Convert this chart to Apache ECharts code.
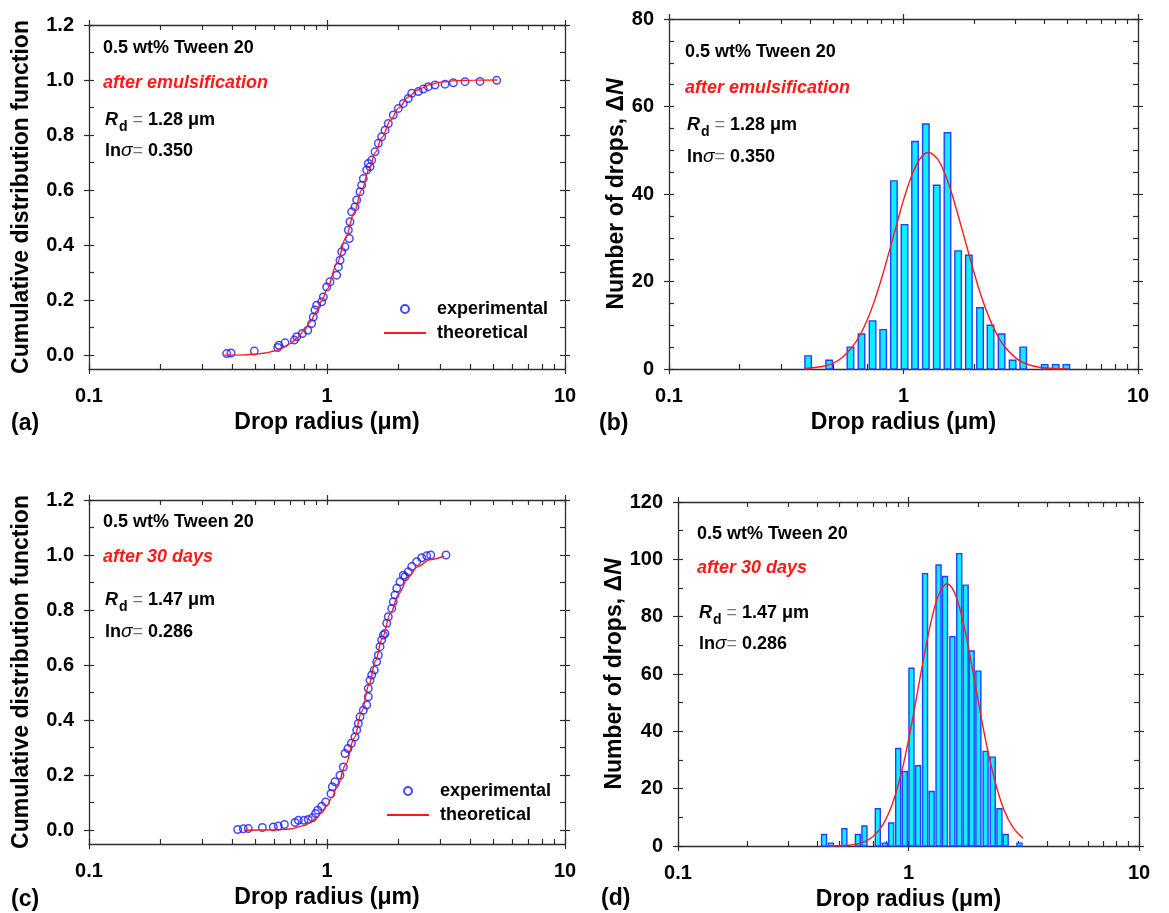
<!DOCTYPE html>
<html>
<head>
<meta charset="utf-8">
<script src="https://cdn.jsdelivr.net/npm/echarts@6/dist/echarts.min.js"></script>
<style>
html,body{margin:0;padding:0;background:#ffffff;}
#chart{width:1169px;height:913px;}
</style>
</head>
<body>
<div id="chart"></div>
<script>
// ---------------- DATA ----------------
const xTickValues = [0.1, 1, 10];
const xAllTickValues = [0.1,0.2,0.3,0.4,0.5,0.6,0.7,0.8,0.9,1,2,3,4,5,6,7,8,9,10];
const cdfTickValues = [0, 0.2, 0.4, 0.6, 0.8, 1.0, 1.2];
const cdfMinorValues = [0,0.1,0.2,0.3,0.4,0.5,0.6,0.7,0.8,0.9,1.0,1.1,1.2];
const countTicksB = [0, 20, 40, 60, 80];
const countMinorB = [0,5,10,15,20,25,30,35,40,45,50,55,60,65,70,75,80];
const countTicksD = [0, 20, 40, 60, 80, 100, 120];
const countMinorD = [0,10,20,30,40,50,60,70,80,90,100,110,120];

// (a) experimental cumulative distribution, after emulsification [radius um, F]
const expA = [
  [0.379,0.006],[0.395,0.008],[0.495,0.015],[0.621,0.028],[0.628,0.036],[0.666,0.045],
  [0.729,0.055],[0.746,0.067],[0.787,0.079],[0.830,0.091],[0.862,0.115],[0.876,0.139],
  [0.890,0.164],[0.905,0.182],[0.950,0.194],[0.965,0.212],[0.997,0.248],[1.029,0.267],
  [1.098,0.291],[1.116,0.321],[1.134,0.345],[1.153,0.376],[1.190,0.394],[1.241,0.424],
  [1.229,0.455],[1.249,0.485],[1.270,0.521],[1.311,0.539],[1.333,0.564],[1.376,0.594],
  [1.399,0.618],[1.421,0.642],[1.468,0.673],[1.491,0.697],[1.516,0.685],[1.541,0.709],
  [1.591,0.739],[1.643,0.770],[1.697,0.794],[1.753,0.818],[1.810,0.842],[1.899,0.873],
  [1.994,0.897],[2.092,0.915],[2.196,0.933],[2.270,0.952],[2.419,0.958],[2.539,0.967],
  [2.665,0.976],[2.843,0.982],[3.132,0.985],[3.394,0.990],[3.801,0.994],[4.395,0.995],
  [5.164,0.999]
];
// (a) theoretical curve
const theoA = [
  [0.37,0.0003],[0.45,0.0014],[0.5,0.0036],[0.55,0.0079],[0.6,0.0152],[0.65,0.0264],
  [0.7,0.0423],[0.75,0.0634],[0.8,0.0896],[0.85,0.121],[0.9,0.157],[0.95,0.197],
  [1.0,0.240],[1.1,0.332],[1.2,0.427],[1.3,0.518],[1.4,0.601],[1.5,0.675],[1.6,0.738],
  [1.7,0.791],[1.85,0.854],[2.0,0.899],[2.2,0.939],[2.4,0.964],[2.7,0.9835],[3.0,0.9925],
  [3.5,0.998],[4.2,0.9997],[5.2,1.0]
];
// (b) histogram, after emulsification
const binCentersB = [0.392,0.482,0.594,0.662,0.738,0.819,0.910,1.01,1.12,1.245,1.386,1.54,1.71,1.90,2.12,2.35,2.62,2.92,3.24,4.0,4.46,4.95];
const countsB     = [3,2,5,8,11,9,43,33,52,56,42,54,27,26,14,10,8,2,5,1,1,1];
const theoB = [
  [0.38,0.12],[0.45,0.57],[0.5,1.3],[0.55,2.7],[0.6,4.8],[0.65,7.6],[0.7,11.2],[0.75,15.4],
  [0.8,20.1],[0.85,25.0],[0.9,29.8],[0.95,34.4],[1.0,38.6],[1.1,45.1],[1.2,48.7],[1.28,49.5],
  [1.4,47.9],[1.5,44.7],[1.6,40.4],[1.7,35.6],[1.85,28.5],[2.0,22.0],[2.15,16.5],[2.3,12.2],
  [2.5,7.9],[2.7,5.1],[3.0,2.6],[3.2,1.6],[3.6,0.63],[4.2,0.16],[5.0,0.03]
];
// (c) experimental cumulative distribution, after 30 days
const expC = [
  [0.4215,0.0025],[0.445,0.005],[0.467,0.006],[0.535,0.010],[0.595,0.012],[0.624,0.015],
  [0.662,0.021],[0.734,0.028],[0.758,0.036],[0.800,0.036],[0.834,0.039],[0.868,0.045],
  [0.896,0.061],[0.914,0.073],[0.950,0.087],[0.987,0.103],[1.039,0.133],[1.053,0.158],
  [1.080,0.176],[1.134,0.200],[1.171,0.230],[1.190,0.279],[1.225,0.297],[1.266,0.316],
  [1.311,0.339],[1.333,0.364],[1.354,0.388],[1.376,0.412],[1.421,0.436],[1.468,0.455],
  [1.491,0.485],[1.491,0.515],[1.516,0.545],[1.541,0.564],[1.580,0.582],[1.617,0.612],
  [1.643,0.636],[1.670,0.667],[1.697,0.691],[1.725,0.709],[1.753,0.715],[1.782,0.752],
  [1.810,0.776],[1.870,0.806],[1.899,0.830],[1.931,0.855],[1.963,0.879],[2.027,0.903],
  [2.092,0.927],[2.127,0.921],[2.196,0.939],[2.270,0.958],[2.382,0.976],[2.500,0.990],
  [2.624,0.997],[2.728,1.0],[3.162,1.0]
];
const theoC = [
  [0.45,0.00002],[0.6,0.0009],[0.7,0.0047],[0.8,0.0167],[0.85,0.0277],[0.9,0.0432],
  [0.95,0.0635],[1.0,0.089],[1.05,0.1196],[1.1,0.155],[1.2,0.239],[1.3,0.334],[1.4,0.432],
  [1.5,0.528],[1.6,0.616],[1.7,0.694],[1.85,0.789],[2.0,0.859],[2.2,0.921],[2.4,0.957],
  [2.7,0.983],[3.1,0.9955]
];
// (d) histogram, after 30 days
const binCentersD = [0.430,0.461,0.527,0.603,0.644,0.736,0.789,0.841,0.902,0.964,1.03,1.10,1.18,1.26,1.35,1.44,1.55,1.66,1.77,1.88,2.01,2.16,2.32,2.48,2.64,3.03];
const countsD     = [4,1,6,4,7,13,1,8,34,26,62,28,95,19,98,94,73,102,91,68,61,33,31,13,4,1];
const theoD = [
  [0.45,0.02],[0.55,0.25],[0.65,1.6],[0.75,5.8],[0.85,14.6],[0.95,28.5],[1.05,45.8],
  [1.15,63.3],[1.25,77.9],[1.35,87.5],[1.47,91.5],[1.6,87.5],[1.75,76.0],[1.9,61.2],
  [2.05,46.5],[2.2,33.9],[2.4,21.1],[2.6,12.5],[2.85,6.3],[3.14,2.7]
];

// ---------------- STYLE / BUILD ----------------
const FONT = '"Liberation Sans", Arial, Helvetica, sans-serif';
const AXC = '#2e2e2e';
const grids = [], xAxes = [], yAxes = [], series = [], graphics = [], legends = [];

function zip(a, b) { return a.map((v, i) => [v, b[i]]); }

function addPanel(p) {
  const g = grids.length;
  grids.push({left: p.l, top: p.t, width: p.w, height: p.h});
  grids.push({left: p.l, top: p.t, width: p.w, height: p.h});
  const xi = xAxes.length, yi = yAxes.length;
  const line = {show: true, onZero: false, lineStyle: {color: AXC, width: 1.3}};
  const noLine = {show: false, onZero: false};
  const tick = {color: AXC, width: 1.2};
  const xb = {type: 'log', logBase: 10, min: 0.1, max: 10, splitLine: {show: false},
              minorTick: {show: false}, minorSplitLine: {show: false}};
  const yb = {type: 'value', min: p.ymin, max: p.ymax, splitLine: {show: false},
              minorTick: {show: false}, minorSplitLine: {show: false}};
  const lab = {color: '#000', fontFamily: FONT, fontWeight: 'bold', fontSize: 20};
  const nameStyle = {color: '#000', fontFamily: FONT, fontWeight: 'bold', fontSize: 23};
  // main grid axes: labels + outward major ticks
  xAxes.push(Object.assign({}, xb, {gridIndex: g, position: 'bottom', axisLine: line,
    axisTick: {show: true, inside: false, length: 5, customValues: xTickValues, lineStyle: tick},
    axisLabel: Object.assign({show: true, customValues: xTickValues, margin: 17,
      formatter: v => String(+(+v).toPrecision(3))}, lab),
    name: 'Drop radius (\u03bcm)', nameLocation: 'middle', nameGap: 42, nameTextStyle: nameStyle}));
  xAxes.push(Object.assign({}, xb, {gridIndex: g, position: 'top', axisLine: line,
    axisTick: {show: true, inside: false, length: 5, customValues: xTickValues, lineStyle: tick},
    axisLabel: {show: false}}));
  yAxes.push(Object.assign({}, yb, {gridIndex: g, position: 'left', axisLine: line,
    axisTick: {show: true, inside: false, length: 5, customValues: p.yTicks, lineStyle: tick},
    axisLabel: Object.assign({show: true, customValues: p.yTicks, margin: 15,
      formatter: p.yFmt}, lab),
    name: p.yName, nameLocation: 'middle', nameRotate: 90, nameGap: p.yNameGap,
    nameTextStyle: Object.assign({}, nameStyle, {rich: {i: {fontFamily: FONT, fontWeight: 'bold',
      fontStyle: 'italic', fontSize: 23, color: '#000'}}})}));
  yAxes.push(Object.assign({}, yb, {gridIndex: g, position: 'right', axisLine: line,
    axisTick: {show: true, inside: false, length: 5, customValues: p.yTicks, lineStyle: tick},
    axisLabel: {show: false}}));
  // overlay grid axes: inward major + minor ticks
  xAxes.push(Object.assign({}, xb, {gridIndex: g + 1, position: 'bottom', axisLine: noLine,
    axisTick: {show: true, inside: true, length: 5, customValues: xAllTickValues, lineStyle: tick},
    axisLabel: {show: false}}));
  xAxes.push(Object.assign({}, xb, {gridIndex: g + 1, position: 'top', axisLine: noLine,
    axisTick: {show: true, inside: true, length: 5, customValues: xAllTickValues, lineStyle: tick},
    axisLabel: {show: false}}));
  yAxes.push(Object.assign({}, yb, {gridIndex: g + 1, position: 'left', axisLine: noLine,
    axisTick: {show: true, inside: true, length: 5, customValues: p.yMinor, lineStyle: tick},
    axisLabel: {show: false}}));
  yAxes.push(Object.assign({}, yb, {gridIndex: g + 1, position: 'right', axisLine: noLine,
    axisTick: {show: true, inside: true, length: 5, customValues: p.yMinor, lineStyle: tick},
    axisLabel: {show: false}}));
  return {xi: xi, yi: yi};
}

const cdfFmt = v => (+v).toFixed(1);
const intFmt = v => String(Math.round(+v));

const PA = addPanel({l: 89, t: 25, w: 476, h: 344, ymin: -0.05, ymax: 1.2, yTicks: cdfTickValues,
  yMinor: cdfMinorValues, yFmt: cdfFmt, yName: 'Cumulative distribution function', yNameGap: 56});
const PB = addPanel({l: 669, t: 19, w: 469, h: 350, ymin: 0, ymax: 80, yTicks: countTicksB,
  yMinor: countMinorB, yFmt: intFmt, yName: 'Number of drops, \u0394{i|N}', yNameGap: 38});
const PC = addPanel({l: 89, t: 500, w: 476, h: 344, ymin: -0.05, ymax: 1.2, yTicks: cdfTickValues,
  yMinor: cdfMinorValues, yFmt: cdfFmt, yName: 'Cumulative distribution function', yNameGap: 56});
const PD = addPanel({l: 678, t: 502, w: 461, h: 344, ymin: 0, ymax: 120, yTicks: countTicksD,
  yMinor: countMinorD, yFmt: intFmt, yName: 'Number of drops, \u0394{i|N}', yNameGap: 46});

function addCdf(P, exp, theo) {
  series.push({type: 'scatter', name: 'experimental', xAxisIndex: P.xi, yAxisIndex: P.yi, data: exp,
    symbol: 'circle', symbolSize: 7.5, z: 3,
    itemStyle: {color: 'rgba(0,0,0,0)', borderColor: '#1a1aff', borderWidth: 1.5}});
  series.push({type: 'line', name: 'theoretical', xAxisIndex: P.xi, yAxisIndex: P.yi, data: theo,
    symbol: 'none', smooth: 0.35, smoothMonotone: 'x', z: 4,
    lineStyle: {color: '#ff1a1a', width: 1.4}, itemStyle: {color: '#ff1a1a'}});
}
function addHist(P, centers, counts, theo, barW) {
  series.push({type: 'custom', name: 'drops', xAxisIndex: P.xi, yAxisIndex: P.yi,
    data: zip(centers, counts), encode: {x: 0, y: 1}, z: 2,
    renderItem: function (params, api) {
      const top = api.coord([api.value(0), api.value(1)]);
      const base = api.coord([api.value(0), 0]);
      return {type: 'rect',
        shape: {x: top[0] - barW / 2, y: top[1], width: barW, height: base[1] - top[1]},
        style: {fill: '#0af0ff', stroke: '#2a3cff', lineWidth: 1.4}};
    }});
  series.push({type: 'line', name: 'fit', xAxisIndex: P.xi, yAxisIndex: P.yi, data: theo,
    symbol: 'none', smooth: 0.35, z: 4, lineStyle: {color: '#ff1a1a', width: 1.4}});
}
addCdf(PA, expA, theoA);
addHist(PB, binCentersB, countsB, theoB, 6.5);
addCdf(PC, expC, theoC);
addHist(PD, binCentersD, countsD, theoD, 5);

function legendAt(left, top) {
  return {left: left, top: top, padding: 0, orient: 'vertical', itemWidth: 42, itemHeight: 8, itemGap: 6,
    data: ['experimental', {name: 'theoretical', itemStyle: {color: 'rgba(0,0,0,0)', borderWidth: 0, opacity: 0}}],
    selectedMode: false,
    textStyle: {color: '#000', fontFamily: FONT, fontWeight: 'bold', fontSize: 18, padding: [0, 0, 0, 6]}};
}
legends.push(legendAt(383, 300));
legends.push(legendAt(386, 782));

const ann = {fontFamily: FONT, fontWeight: 'bold', fontSize: 18};
const rich = {
  n: {fontFamily: FONT, fontWeight: 'bold', fontSize: 18, fill: '#000'},
  i: {fontFamily: FONT, fontWeight: 'bold', fontStyle: 'italic', fontSize: 18, fill: '#000'},
  s: {fontFamily: FONT, fontWeight: 'bold', fontSize: 14, fill: '#000', padding: [14, 0, 0, 1]},
  e: {fontFamily: FONT, fontWeight: 'normal', fontSize: 18, fill: '#777'},
  g: {fontFamily: FONT, fontWeight: 'normal', fontStyle: 'italic', fontSize: 19, fill: '#000'}
};
function txt(x, y, text, extra) {
  graphics.push({type: 'text', x: x, y: y, z: 50,
    style: Object.assign({text: text, fill: '#000', align: 'left', verticalAlign: 'middle', rich: rich}, ann, extra || {})});
}
function annotate(x, y0, y1, y2, y3, red, rd, sig) {
  txt(x, y0, '0.5 wt% Tween 20');
  txt(x, y1, red, {fill: '#ff1a1a', fontStyle: 'italic'});
  txt(x + 2, y2, '{i|R}{s|d}{e| = }{n|' + rd + ' \u03bcm}');
  txt(x + 2, y3, '{n|ln}{g|\u03c3}{e|= }{n|' + sig + '}');
}
annotate(103, 48, 83, 120, 151, 'after emulsification', '1.28', '0.350');
annotate(685, 52, 88, 125, 157, 'after emulsification', '1.28', '0.350');
annotate(103, 522, 557, 600, 632, 'after 30 days', '1.47', '0.286');
annotate(697, 534, 568, 613, 644, 'after 30 days', '1.47', '0.286');

const letter = {fontFamily: FONT, fontWeight: 'bold', fontSize: 23};
[['(a)', 11, 424], ['(b)', 599, 424], ['(c)', 11, 900], ['(d)', 601, 899]].forEach(function (L) {
  graphics.push({type: 'text', x: L[1], y: L[2], style: Object.assign({text: L[0], fill: '#000',
    align: 'left', verticalAlign: 'middle'}, letter)});
});

const chart = echarts.init(document.getElementById('chart'), null, {renderer: 'canvas'});
chart.setOption({
  animation: false,
  backgroundColor: '#ffffff',
  grid: grids,
  xAxis: xAxes,
  yAxis: yAxes,
  legend: legends,
  series: series,
  graphic: graphics
});
</script>
</body>
</html>
